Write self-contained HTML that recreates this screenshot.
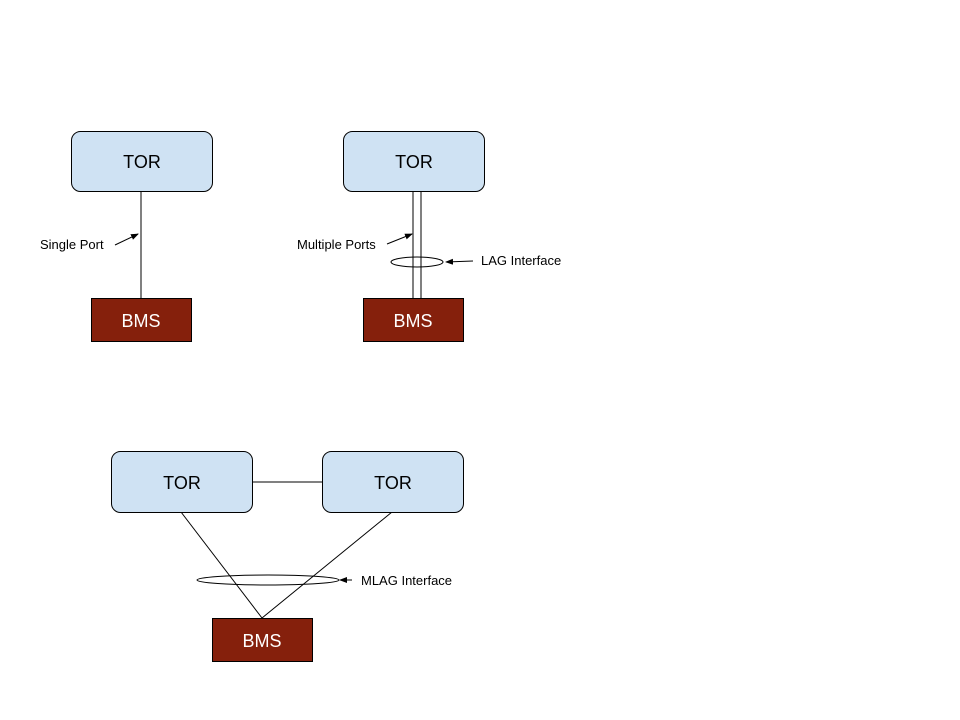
<!DOCTYPE html>
<html><head><style>body{margin:0;background:#fff}svg{display:block}text{font-family:"Liberation Sans",sans-serif}</style></head>
<body>
<svg width="960" height="720" viewBox="0 0 960 720">
<defs><marker id="a" markerWidth="8" markerHeight="6" refX="7" refY="3" orient="auto" markerUnits="userSpaceOnUse"><path d="M0,0 L8,3 L0,6 z" fill="#000"/></marker></defs>
<g stroke="#000" stroke-width="1" fill="none">
<line x1="141" y1="191" x2="141" y2="298"/>
<line x1="413" y1="191" x2="413" y2="298"/>
<line x1="421" y1="191" x2="421" y2="298"/>
<line x1="252" y1="482" x2="322" y2="482"/>
<line x1="181" y1="512" x2="262" y2="618"/>
<line x1="392" y1="512" x2="262" y2="618"/>
<line x1="115" y1="245" x2="138" y2="234" marker-end="url(#a)"/>
<line x1="387" y1="244" x2="412" y2="234" marker-end="url(#a)"/>
<ellipse cx="417" cy="262" rx="26" ry="5"/>
<line x1="473" y1="261" x2="446" y2="262" marker-end="url(#a)"/>
<ellipse cx="268" cy="580" rx="71" ry="5"/>
<line x1="352" y1="580" x2="340" y2="580" marker-end="url(#a)"/>
</g>
<g fill="#cfe2f3" stroke="#000">
<rect x="71.5" y="131.5" width="141" height="60" rx="9"/>
<rect x="343.5" y="131.5" width="141" height="60" rx="9"/>
<rect x="111.5" y="451.5" width="141" height="61" rx="9"/>
<rect x="322.5" y="451.5" width="141" height="61" rx="9"/>
</g>
<g fill="#85200c" stroke="#000">
<rect x="91.5" y="298.5" width="100" height="43"/>
<rect x="363.5" y="298.5" width="100" height="43"/>
<rect x="212.5" y="618.5" width="100" height="43"/>
</g>
<g font-size="18" text-anchor="middle">
<text x="142" y="168">TOR</text><text x="414" y="168">TOR</text>
<text x="182" y="489">TOR</text><text x="393" y="489">TOR</text>
<g fill="#fff"><text x="141" y="327">BMS</text><text x="413" y="327">BMS</text><text x="262" y="647">BMS</text></g>
</g>
<g font-size="13">
<text x="40" y="249">Single Port</text>
<text x="297" y="249">Multiple Ports</text>
<text x="481" y="265">LAG Interface</text>
<text x="361" y="585">MLAG Interface</text>
</g>
</svg>
</body></html>
